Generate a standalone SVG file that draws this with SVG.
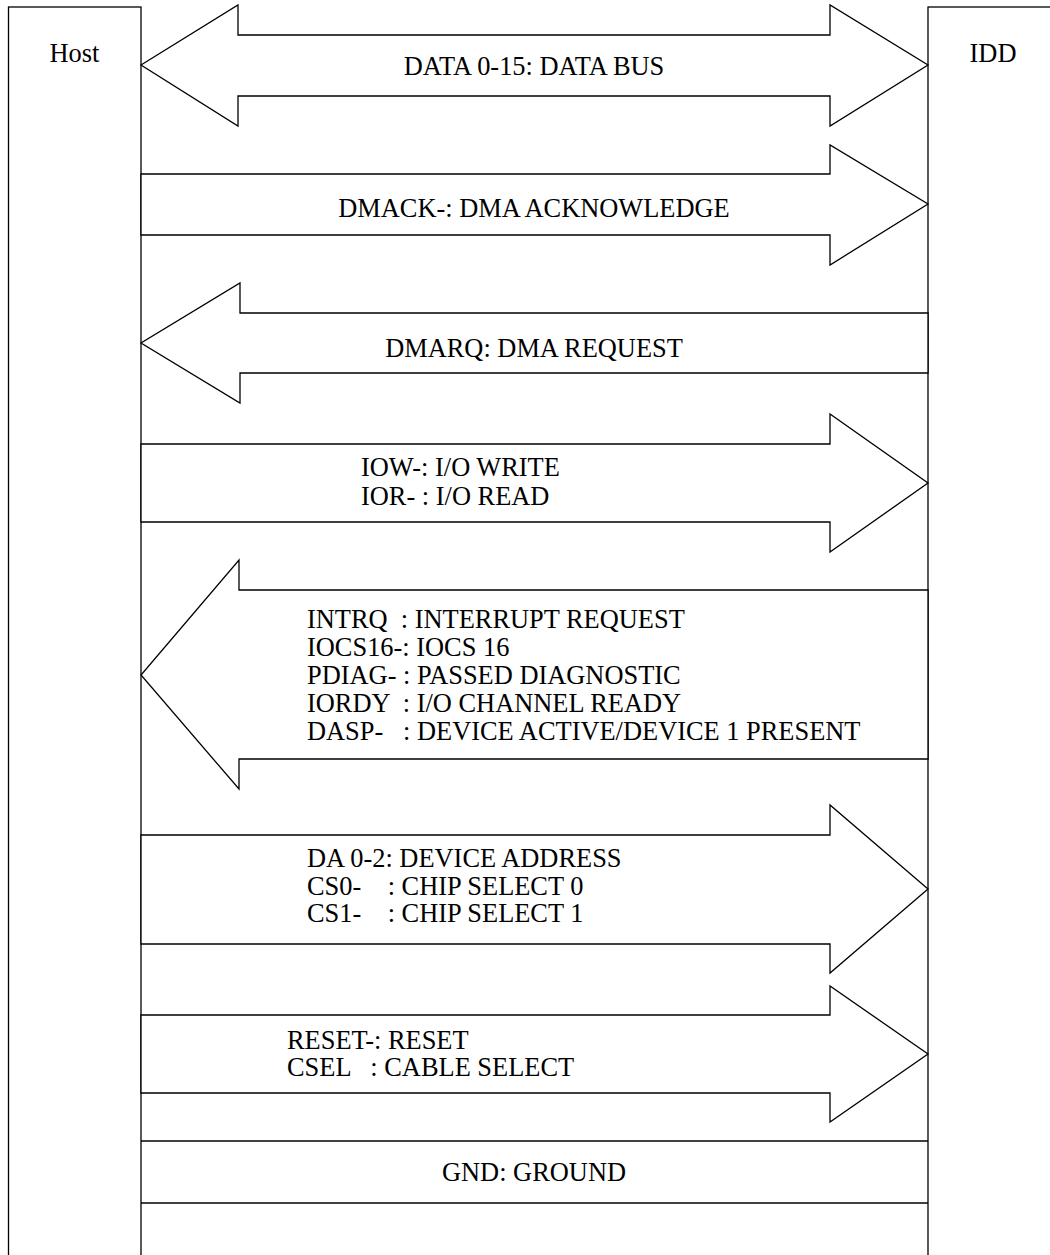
<svg xmlns="http://www.w3.org/2000/svg" width="1050" height="1255" viewBox="0 0 1050 1255">
<style>
.box{fill:#fff;stroke:#000;stroke-width:1.3}
.arr{fill:#fff;stroke:#000;stroke-width:1.3;stroke-linejoin:miter}
.ln{stroke:#000;stroke-width:1.3;fill:none}
text{font-family:"Liberation Serif","Times New Roman",serif;font-size:26.4px;fill:#000;white-space:pre}
.c{text-anchor:middle}
</style>
<rect x="0" y="0" width="1050" height="1255" fill="#fff"/>
<g id="host">
<rect class="box" x="8.5" y="7" width="132.5" height="1260"/>
<text class="c" x="74.5" y="62">Host</text>
</g>
<g id="idd">
<rect class="box" x="928" y="7" width="140" height="1260"/>
<text class="c" x="993" y="62">IDD</text>
</g>
<g id="connectors">
<polygon id="data" class="arr" points="141,65 238,5 238,35 830,35 830,5 928,65 830,126 830,96 238,96 238,126"/>
<polygon id="dmack" class="arr" points="141,174 830,174 830,145 928,204 830,265 830,235 141,235"/>
<polygon id="dmarq" class="arr" points="928,313 240,313 240,283 141,343 240,403 240,373 928,373"/>
<polygon id="iow" class="arr" points="141,444 830,444 830,414 928,483 830,552 830,522 141,522"/>
<polygon id="intrq" class="arr" points="928,590 239,590 239,560 141,675 239,789 239,759 928,759"/>
<polygon id="da" class="arr" points="141,835 830,835 830,805 928,889 830,973 830,944 141,944"/>
<polygon id="reset" class="arr" points="141,1015 830,1015 830,986 928,1054 830,1122 830,1093 141,1093"/>
<line id="gnd1" class="ln" x1="141" y1="1141" x2="928" y2="1141"/>
<line id="gnd2" class="ln" x1="141" y1="1203" x2="928" y2="1203"/>
</g>
<g id="labels">
<text class="c" x="534" y="75">DATA 0-15: DATA BUS</text>
<text class="c" x="534" y="217">DMACK-: DMA ACKNOWLEDGE</text>
<text class="c" x="534" y="357">DMARQ: DMA REQUEST</text>
<text x="361" y="476">IOW-: I/O WRITE</text>
<text x="361" y="505">IOR- : I/O READ</text>
<text x="307" y="628">INTRQ  : INTERRUPT REQUEST</text>
<text x="307" y="656">IOCS16-: IOCS 16</text>
<text x="307" y="684">PDIAG- : PASSED DIAGNOSTIC</text>
<text x="307" y="712">IORDY  : I/O CHANNEL READY</text>
<text x="307" y="740">DASP-   : DEVICE ACTIVE/DEVICE 1 PRESENT</text>
<text x="307" y="867">DA 0-2: DEVICE ADDRESS</text>
<text x="307" y="895">CS0-    : CHIP SELECT 0</text>
<text x="307" y="922">CS1-    : CHIP SELECT 1</text>
<text x="287" y="1049">RESET-: RESET</text>
<text x="287" y="1076">CSEL   : CABLE SELECT</text>
<text class="c" x="534" y="1181">GND: GROUND</text>
</g>
</svg>
